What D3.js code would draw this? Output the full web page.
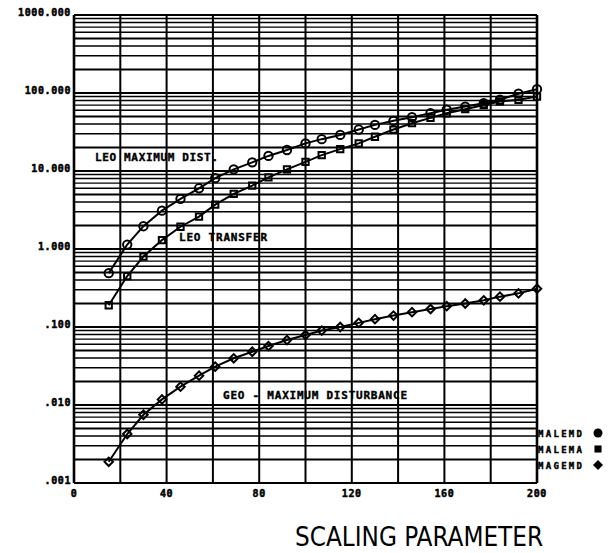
<!DOCTYPE html>
<html>
<head>
<meta charset="utf-8">
<script src="https://cdn.jsdelivr.net/npm/d3@7"></script>
<style>
  body { margin: 0; background: #fff; }
  text { font-family: "DejaVu Sans Mono", monospace; font-weight: bold; fill: #000; }
</style>
</head>
<body>
<svg id="canvas" width="609" height="553"></svg>
<script>
// scaling parameter (x) for every plotted point
let xVals = [15, 23, 30, 38, 46, 54, 61, 69, 77, 84, 92, 100, 107, 115, 123, 130, 138, 146, 154, 161, 169, 177, 184, 192, 200]

// LEO maximum disturbance (circles)
let leoMaxDist = [0.49, 1.14, 1.96, 3.1, 4.4, 6.0, 8.1, 10.5, 12.9, 15.6, 18.6, 22.6, 25.6, 29, 34, 39, 44, 49, 55, 61, 67, 74, 82, 98, 112]
// LEO transfer (squares)
let leoTransfer = [0.19, 0.45, 0.80, 1.3, 1.93, 2.6, 3.7, 5.1, 6.5, 8.3, 10.5, 13.1, 16, 19.1, 22.6, 27.5, 34, 41, 48, 55, 62, 70, 78, 82, 90]
// GEO maximum disturbance (diamonds)
let geoMaxDist = [0.00187, 0.00425, 0.0075, 0.0118, 0.0172, 0.0238, 0.031, 0.0397, 0.0482, 0.057, 0.068, 0.079, 0.09, 0.10, 0.113, 0.126, 0.14, 0.155, 0.17, 0.185, 0.2, 0.22, 0.245, 0.27, 0.31]

let xTicks = [0, 40, 80, 120, 160, 200]
let yTicks = [0.001, 0.01, 0.1, 1, 10, 100, 1000]
let yTickLabels = ['.001', '.010', '.100', '1.000', '10.000', '100.000', '1000.000']
let legendNames = ['MALEMD', 'MALEMA', 'MAGEMD']

let canvas = d3.select('#canvas')

let xScale = d3.scaleLinear().domain([0, 200]).range([74, 537])
let yScale = d3.scaleLog().domain([0.001, 1000]).range([483, 15])

// grid
let grid = canvas.append('g')
let minor = []
yTicks.slice(0, -1).forEach((d) => {
    for (let k = 2; k <= 9; k++) minor.push(d * k)
})
grid.selectAll('.hminor')
    .data(minor)
    .enter()
    .append('line')
    .attr('x1', xScale(0)).attr('x2', xScale(200))
    .attr('y1', (d) => yScale(d)).attr('y2', (d) => yScale(d))
    .attr('stroke', '#000')
    .attr('stroke-width', (d, i) => (i % 8 == 0 || i % 8 == 3) ? 1.8 : 1.4)
grid.selectAll('.hmajor')
    .data(yTicks)
    .enter()
    .append('line')
    .attr('x1', xScale(0)).attr('x2', xScale(200))
    .attr('y1', (d) => yScale(d)).attr('y2', (d) => yScale(d))
    .attr('stroke', '#000')
    .attr('stroke-width', 2.2)
grid.selectAll('.vline')
    .data(d3.range(0, 201, 20))
    .enter()
    .append('line')
    .attr('x1', (d) => xScale(d)).attr('x2', (d) => xScale(d))
    .attr('y1', yScale(1000)).attr('y2', yScale(0.001))
    .attr('stroke', '#000')
    .attr('stroke-width', (d) => (d == 0 || d == 200) ? 2.6 : 2)

// tick labels
canvas.selectAll('.ylab')
    .data(yTicks)
    .enter()
    .append('text')
    .attr('x', 71)
    .attr('y', (d) => yScale(d) + 1)
    .attr('text-anchor', 'end')
    .attr('font-size', 10)
    .attr('letter-spacing', 0.6)
    .attr('stroke', '#000')
    .attr('stroke-width', 0.5)
    .text((d, i) => yTickLabels[i])

canvas.selectAll('.xlab')
    .data(xTicks)
    .enter()
    .append('text')
    .attr('x', (d) => xScale(d))
    .attr('y', 497)
    .attr('text-anchor', 'middle')
    .attr('font-size', 10)
    .attr('letter-spacing', 0.6)
    .attr('stroke', '#000')
    .attr('stroke-width', 0.5)
    .text((d) => d)

// curves
let series = [
    {values: leoMaxDist, shape: d3.symbolCircle, size: 55, rot: 0},
    {values: leoTransfer, shape: d3.symbolSquare, size: 40, rot: 0},
    {values: geoMaxDist, shape: d3.symbolSquare, size: 36, rot: 45}
]
let line = d3.line()
    .x((d) => xScale(d[0]))
    .y((d) => yScale(d[1]))

series.forEach((s) => {
    let pts = xVals.map((x, i) => [x, s.values[i]])
    canvas.append('path')
        .attr('d', line(pts))
        .attr('fill', 'none')
        .attr('stroke', '#000')
        .attr('stroke-width', 2)
    canvas.selectAll(null)
        .data(pts)
        .enter()
        .append('path')
        .attr('d', d3.symbol().type(s.shape).size(s.size))
        .attr('transform', (d) => 'translate(' + xScale(d[0]) + ',' + yScale(d[1]) + ') rotate(' + s.rot + ')')
        .attr('fill', 'none')
        .attr('stroke', '#000')
        .attr('stroke-width', 2)
})

// curve labels
let labels = [
    {t: 'LEO MAXIMUM DIST.', x: 95, y: 161, w: 123},
    {t: 'LEO TRANSFER', x: 179, y: 241, w: 88},
    {t: 'GEO - MAXIMUM DISTURBANCE', x: 223, y: 399, w: 184}
]
canvas.selectAll('.clab')
    .data(labels)
    .enter()
    .append('text')
    .attr('x', (d) => d.x)
    .attr('y', (d) => d.y)
    .attr('font-size', 11)
    .attr('stroke', '#000')
    .attr('stroke-width', 0.4)
    .attr('textLength', (d) => d.w)
    .attr('lengthAdjust', 'spacing')
    .text((d) => d.t)

// legend
let legend = canvas.selectAll('.leg')
    .data(legendNames)
    .enter()
    .append('g')
    .attr('transform', (d, i) => 'translate(538,' + (437 + i * 16) + ')')
legend.append('text')
    .attr('x', 0)
    .attr('y', 0)
    .attr('font-size', 9)
    .attr('stroke', '#000')
    .attr('stroke-width', 0.4)
    .attr('textLength', 44)
    .attr('lengthAdjust', 'spacing')
    .text((d) => d)
legend.append('path')
    .attr('d', (d, i) => d3.symbol().type(d3.symbolSquare).size(i == 0 ? 0 : 50)())
    .attr('transform', (d, i) => 'translate(60,-4) rotate(' + (i == 2 ? 45 : 0) + ')')
    .attr('fill', '#000')
legend.filter((d, i) => i == 0)
    .append('circle')
    .attr('cx', 60).attr('cy', -4).attr('r', 4.5)
    .attr('fill', '#000')

// axis title
canvas.append('text')
    .attr('x', 295)
    .attr('y', 546)
    .attr('font-size', 26)
    .style('font-family', '"DejaVu Sans Condensed", "DejaVu Sans", sans-serif')
    .style('font-weight', 'normal')
    .attr('textLength', 248)
    .attr('lengthAdjust', 'spacingAndGlyphs')
    .text('SCALING PARAMETER')
</script>
</body>
</html>
